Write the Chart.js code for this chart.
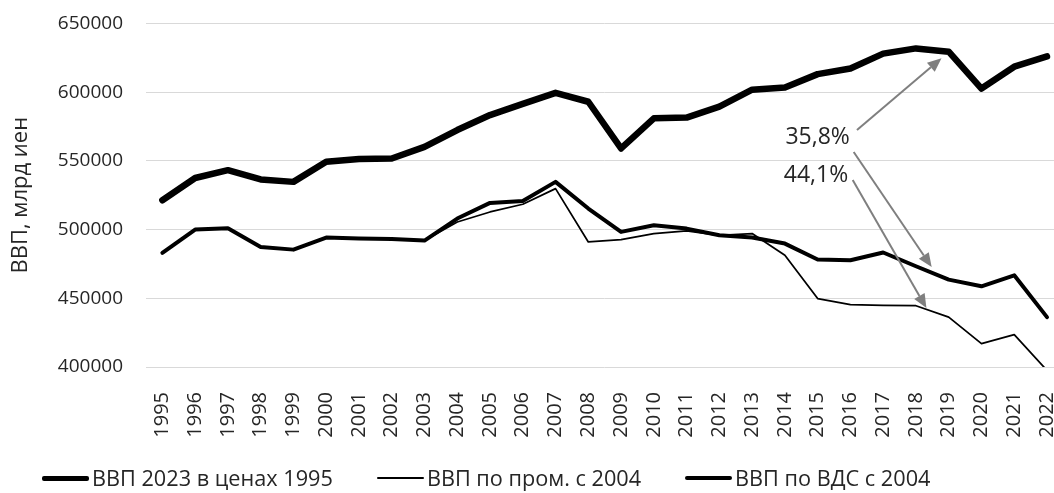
<!DOCTYPE html>
<html lang="ru">
  <head>
    <meta charset="UTF-8" />
    <title>ВВП Японии</title>
    <script src="https://cdn.jsdelivr.net/npm/chart.js"></script>
    <style>
      html,
      body {
        margin: 0;
        padding: 0;
        overflow: hidden;
        background: #fff;
      }
      .wrap {
        position: relative;
        width: 1071px;
        height: 493px;
      }
      #legend {
        position: absolute;
        left: 42px;
        top: 467px;
        display: flex;
        align-items: center;
        white-space: nowrap;
        font-family: "Open Sans", sans-serif;
        font-size: 21.7px;
        line-height: 22px;
        color: #262626;
      }
      #legend .item {
        display: flex;
        align-items: center;
        margin-right: 44px;
      }
      #legend .swatch {
        display: inline-block;
        width: 47px;
        margin-right: 3px;
        border-radius: 2px;
      }
    </style>
  </head>
  <body>
    <div class="wrap">
      <canvas id="gdpChart"></canvas>
      <div id="legend"></div>
    </div>

    <script>
      // годы
      const years = [
        "1995", "1996", "1997", "1998", "1999", "2000", "2001", "2002", "2003", "2004",
        "2005", "2006", "2007", "2008", "2009", "2010", "2011", "2012", "2013", "2014",
        "2015", "2016", "2017", "2018", "2019", "2020", "2021", "2022",
      ];

      // ВВП 2023 в ценах 1995
      const gdpPrices1995 = [
        521300, 537500, 543200, 536500, 534700, 549300, 551300, 551700, 560200, 572400,
        583300, 591500, 599500, 593000, 559000, 580900, 581500, 589500, 601800, 603400,
        613100, 617200, 628000, 631800, 629400, 602600, 618500, 626000,
      ];

      // ВВП по пром. с 2004
      const gdpIndustry = [
        483000, 500000, 501000, 487300, 485400, 494200, 493500, 493200, 492000, 505500,
        512800, 518400, 529800, 491000, 492700, 497100, 499000, 495800, 497100, 481300,
        449800, 445400, 444900, 444600, 436300, 417000, 423600, 397500,
      ];

      // ВВП по ВДС с 2004
      const gdpValueAdded = [
        483000, 500000, 501000, 487300, 485400, 494200, 493500, 493200, 492000, 508000,
        519400, 520800, 534700, 515300, 498300, 503100, 500700, 495800, 494200, 489800,
        478200, 477700, 483300, 473300, 463600, 458700, 466700, 436300,
      ];

      const yTicks = [400000, 450000, 500000, 550000, 600000, 650000];

      // подписи и стрелки (в координатах данных: индекс года, значение)
      const noteLabels = [
        { text: "35,8%", x: 20.0, y: 567000 },
        { text: "44,1%", x: 19.95, y: 539400 },
      ];
      const noteArrows = [
        { from: [21.2, 572400], to: [23.78, 624700] },
        { from: [21.1, 556400], to: [23.48, 472700] },
        { from: [21.07, 536000], to: [23.32, 442900] },
      ];

      const textColor = "#262626";
      const fontFamily = "'Open Sans', sans-serif";

      const notesPlugin = {
        id: "notes",
        afterDatasetsDraw(chart) {
          const { ctx, scales } = chart;
          const xs = scales.x;
          const ys = scales.y;
          ctx.save();

          // стрелки
          ctx.strokeStyle = "#7f7f7f";
          ctx.fillStyle = "#7f7f7f";
          ctx.lineWidth = 2;
          noteArrows.forEach((a) => {
            const x1 = xs.getPixelForValue(a.from[0]);
            const y1 = ys.getPixelForValue(a.from[1]);
            const x2 = xs.getPixelForValue(a.to[0]);
            const y2 = ys.getPixelForValue(a.to[1]);
            const ang = Math.atan2(y2 - y1, x2 - x1);
            const head = 14;
            const half = 6;
            const bx = x2 - head * Math.cos(ang);
            const by = y2 - head * Math.sin(ang);
            ctx.beginPath();
            ctx.moveTo(x1, y1);
            ctx.lineTo(bx, by);
            ctx.stroke();
            ctx.beginPath();
            ctx.moveTo(x2, y2);
            ctx.lineTo(bx + half * Math.sin(ang), by - half * Math.cos(ang));
            ctx.lineTo(bx - half * Math.sin(ang), by + half * Math.cos(ang));
            ctx.closePath();
            ctx.fill();
          });

          // подписи
          ctx.fillStyle = textColor;
          ctx.font = "23px " + fontFamily;
          ctx.textAlign = "center";
          ctx.textBaseline = "middle";
          noteLabels.forEach((l) => {
            ctx.fillText(l.text, xs.getPixelForValue(l.x), ys.getPixelForValue(l.y));
          });
          ctx.restore();
        },
      };

      // легенда в HTML из наборов данных
      const htmlLegend = {
        id: "htmlLegend",
        afterUpdate(chart) {
          const box = document.getElementById("legend");
          box.innerHTML = "";
          chart.data.datasets.forEach((ds) => {
            const item = document.createElement("div");
            item.className = "item";
            const sw = document.createElement("span");
            sw.className = "swatch";
            sw.style.height = Math.min(ds.borderWidth, 5) + "px";
            sw.style.background = ds.borderColor;
            const txt = document.createElement("span");
            txt.textContent = ds.label;
            item.appendChild(sw);
            item.appendChild(txt);
            box.appendChild(item);
          });
        },
      };

      const ctx = document.getElementById("gdpChart");

      new Chart(ctx, {
        type: "line",
        data: {
          labels: years,
          datasets: [
            {
              label: "ВВП 2023 в ценах 1995",
              data: gdpPrices1995,
              borderColor: "#000",
              backgroundColor: "#000",
              borderWidth: 6.5,
            },
            {
              label: "ВВП по пром. с 2004",
              data: gdpIndustry,
              borderColor: "#000",
              backgroundColor: "#000",
              borderWidth: 1.75,
            },
            {
              label: "ВВП по ВДС с 2004",
              data: gdpValueAdded,
              borderColor: "#000",
              backgroundColor: "#000",
              borderWidth: 4,
            },
          ],
        },
        options: {
          responsive: true,
          maintainAspectRatio: false,
          animation: false,
          devicePixelRatio: 1,
          elements: {
            point: { radius: 0 },
            line: { tension: 0, borderJoinStyle: "round", borderCapStyle: "round", fill: false },
          },
          layout: { padding: { top: 0, left: 0, right: 0, bottom: 54 } },
          plugins: {
            tooltip: { enabled: false },
            legend: { display: false },
          },
          scales: {
            x: {
              offset: true,
              grid: {
                display: true,
                color: "transparent",
                drawOnChartArea: false,
                drawTicks: true,
                tickLength: 25,
                tickColor: "transparent",
              },
              border: { display: false },
              ticks: {
                autoSkip: false,
                minRotation: 90,
                maxRotation: 90,
                padding: 0,
                color: textColor,
                font: { family: fontFamily, size: 20 },
              },
              afterFit(scale) {
                scale.height = 72;
              },
            },
            y: {
              min: 400000,
              max: 650000,
              afterBuildTicks(scale) {
                scale.ticks = yTicks.map((v) => ({ value: v }));
              },
              grid: {
                color: "#d9d9d9",
                lineWidth: 1,
                drawTicks: true,
                tickLength: 11,
                tickColor: "transparent",
              },
              border: { display: false },
              ticks: {
                padding: 12,
                color: textColor,
                font: { family: fontFamily, size: 19 },
                callback: (v) => String(v),
              },
              title: {
                display: true,
                text: "ВВП, млрд иен",
                color: textColor,
                font: { family: fontFamily, size: 22 },
                padding: { top: 8, bottom: 0 },
              },
              afterFit(scale) {
                scale.width = 146;
              },
            },
          },
        },
        plugins: [notesPlugin, htmlLegend],
      });
    </script>
  </body>
</html>
